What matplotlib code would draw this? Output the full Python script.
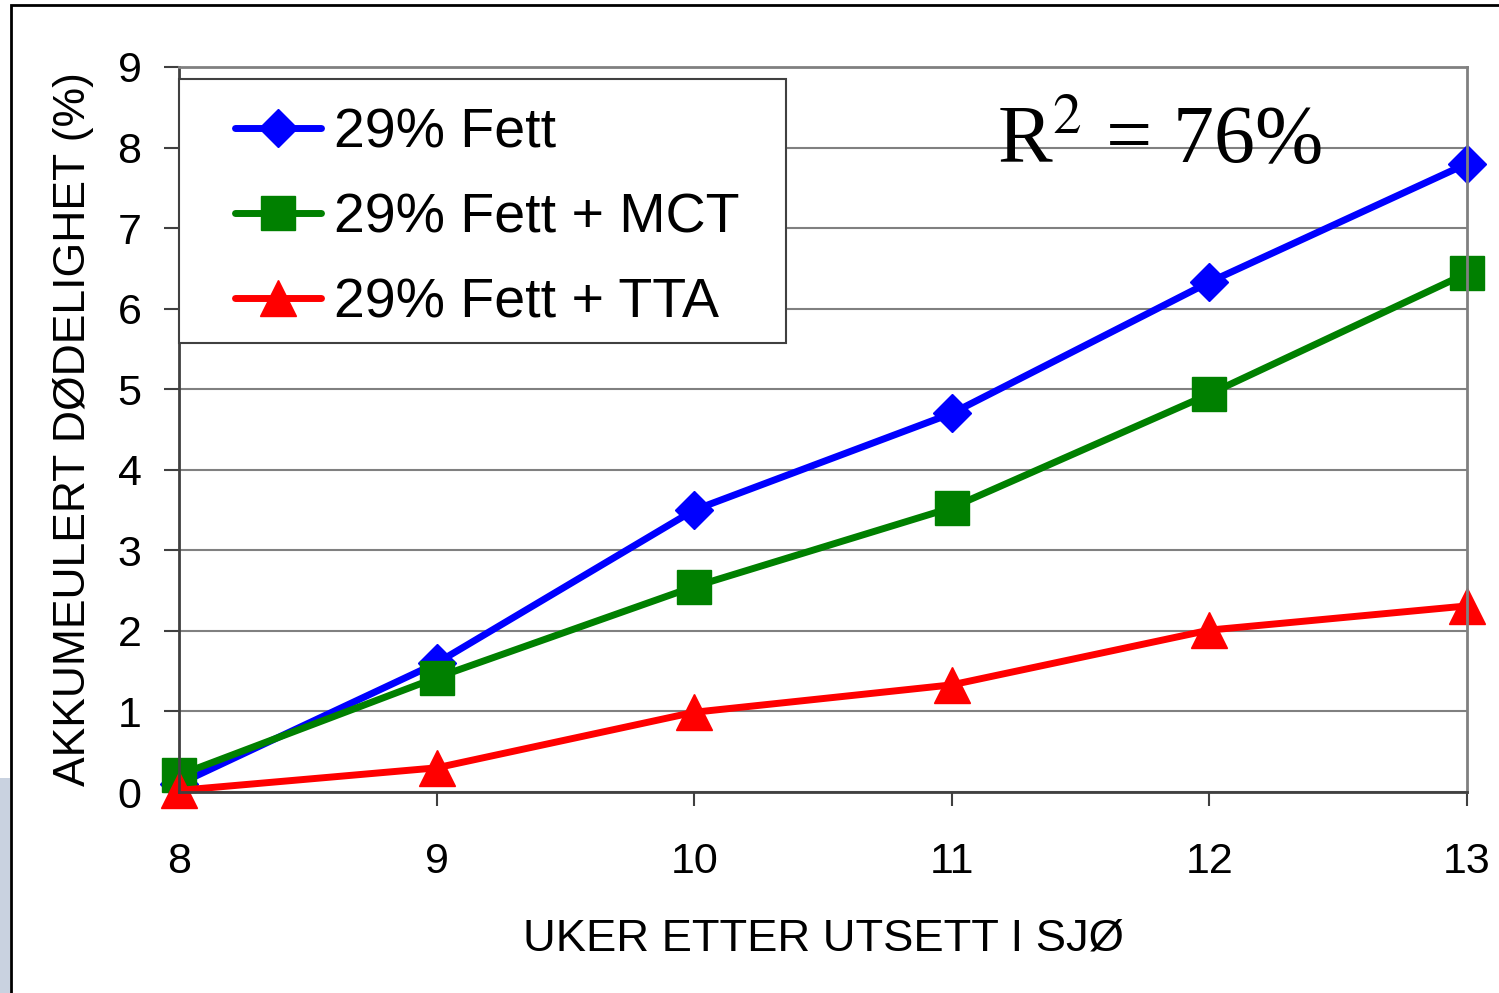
import matplotlib
matplotlib.use("Agg")
import matplotlib.pyplot as plt
from matplotlib.patches import Rectangle

plt.rcParams['font.family'] = ['Liberation Sans', 'DejaVu Sans']
plt.rcParams['mathtext.fontset'] = 'stix'

weeks = [8, 9, 10, 11, 12, 13]
fett = [0.1, 1.6, 3.5, 4.7, 6.33, 7.8]
fett_mct = [0.21, 1.42, 2.55, 3.53, 4.94, 6.44]
fett_tta = [0.02, 0.3, 0.99, 1.33, 2.01, 2.31]

labels = ['29% Fett', '29% Fett + MCT', '29% Fett + TTA']
colors = ['#0000ff', '#008000', '#ff0000']
markers = ['D', 's', '^']
msizes = [19, 24, 26]

fig = plt.figure(figsize=(14.99, 9.93), dpi=100)
ax = fig.add_axes([179 / 1499, 1 - 792 / 993, (1467 - 179) / 1499, (792 - 67) / 993])

for ys, lab, c, m, ms in zip([fett, fett_mct, fett_tta], labels, colors, markers, msizes):
    ax.plot(weeks, ys, color=c, lw=5, marker=m, markersize=ms, label=lab,
            clip_on=False, solid_capstyle='round')

ax.set_xlim(8, 13)
ax.set_ylim(0, 9)
ax.set_xticks(weeks)
ax.set_yticks(range(10))
ax.yaxis.grid(True, color='#808080', lw=1.5)
ax.set_axisbelow(True)
for s in ['top', 'right']:
    ax.spines[s].set_color('#808080')
    ax.spines[s].set_linewidth(2)
for s in ['left', 'bottom']:
    ax.spines[s].set_color('#404040')
    ax.spines[s].set_linewidth(2)

ax.tick_params(axis='y', direction='out', length=11, width=1.5, pad=16, labelsize=31,
               colors='#404040', labelcolor='black')
ax.tick_params(axis='x', direction='out', length=10, width=1.5, pad=26, labelsize=31,
               colors='#404040', labelcolor='black')

ax.set_xlabel('UKER ETTER UTSETT I SJØ', fontsize=32.7, labelpad=26)
ax.set_ylabel('AKKUMEULERT DØDELIGHET (%)', fontsize=32, labelpad=17)

# legend box drawn separately so the padding matches
box = Rectangle((0, (792 - 343) / 725), (786 - 179) / 1288, (343 - 79) / 725,
                transform=ax.transAxes, facecolor='white', edgecolor='#404040',
                lw=1.5, zorder=3, clip_on=False)
ax.add_patch(box)
leg = ax.legend(loc='upper left', bbox_to_anchor=((235 - 179) / 1288, (792 - 107) / 725),
                borderaxespad=0, borderpad=0, fontsize=40, handlelength=1.55,
                handletextpad=0.24, labelspacing=0.6, frameon=False)
leg.set_zorder(4)

ax.text(11.175, 7.82, r'R$^2$ = 76%', fontsize=59, ha='left', va='baseline',
        family=['Liberation Serif', 'DejaVu Serif'])

# slide frame and left photo strip
fig.patches.append(Rectangle((11 / 1499, -0.1), 1.2, 1 - 5 / 993 + 0.1, transform=fig.transFigure,
                             fill=False, edgecolor='black', lw=2))
fig.patches.append(Rectangle((0, 0), 10 / 1499, 215 / 993, transform=fig.transFigure,
                             facecolor='#c9d2e0', edgecolor='none'))

fig.savefig('out.png', dpi=100)
